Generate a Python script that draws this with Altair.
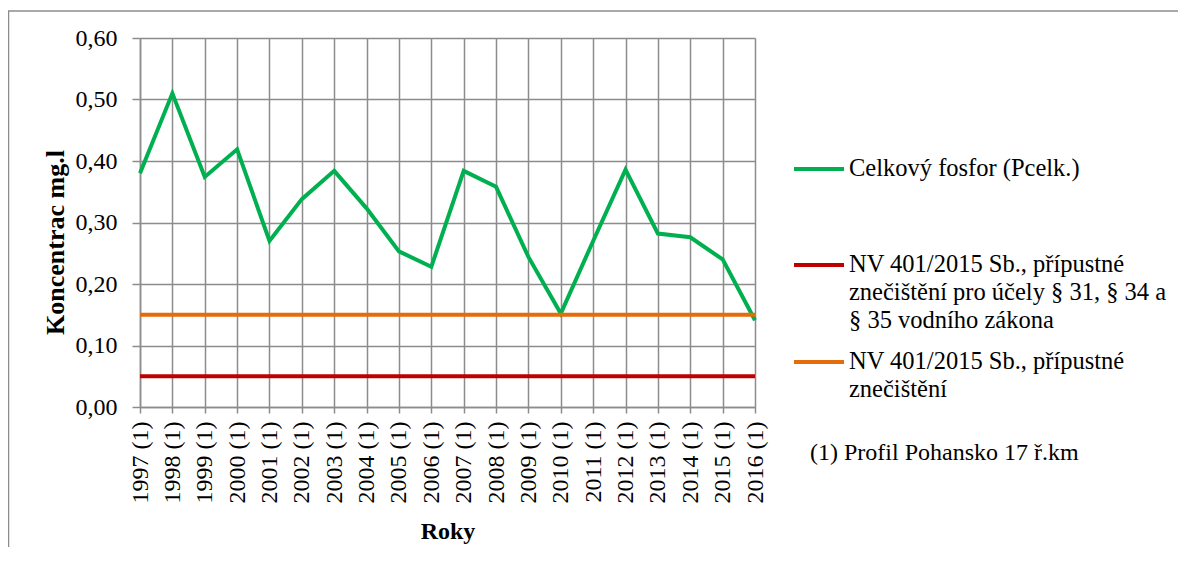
import json
import altair as alt
import pandas as pd

FONT = "Times New Roman, Liberation Serif, serif"

# ---- data ----
years = ["1997 (1)", "1998 (1)", "1999 (1)", "2000 (1)", "2001 (1)", "2002 (1)",
         "2003 (1)", "2004 (1)", "2005 (1)", "2006 (1)", "2007 (1)", "2008 (1)",
         "2009 (1)", "2010 (1)", "2011 (1)", "2012 (1)", "2013 (1)", "2014 (1)",
         "2015 (1)", "2016 (1)"]
phosphorus = [0.380, 0.510, 0.374, 0.419, 0.270, 0.338, 0.384, 0.323, 0.253, 0.228,
              0.384, 0.358, 0.244, 0.152, 0.270, 0.386, 0.282, 0.276, 0.240, 0.141]
series_names = [
    "Celkový fosfor (Pcelk.)",
    "NV 401/2015 Sb., přípustné znečištění pro účely § 31, § 34 a § 35 vodního zákona",
    "NV 401/2015 Sb., přípustné znečištění",
]
limit_values = [0.05, 0.15]
series_colors = ["#00b050", "#c00000", "#e46c0a"]
legend_lines = [
    ["Celkový fosfor (Pcelk.)"],
    ["NV 401/2015 Sb., přípustné", "znečištění pro účely § 31, § 34 a", "§ 35 vodního zákona"],
    ["NV 401/2015 Sb., přípustné", "znečištění"],
]
y_ticks = [0.0, 0.1, 0.2, 0.3, 0.4, 0.5, 0.6]
note = ["(1) Profil Pohansko 17 ř.km"]
x_title = "Roky"
y_title = "Koncentrac mg.l"

GRID = "#8c8c8c"
FS = 24
W, H = 615, 369


def make_legend(i, ly):
    return alt.Legend(
        title=None, orient="none", legendX=652, legendY=ly, padding=0,
        symbolType="stroke", symbolSize=2500, symbolStrokeWidth=4,
        labelFont=FONT, labelFontSize=24.5, labelColor="black", labelOffset=3,
        labelLimit=800, labelExpr=json.dumps(legend_lines[i], ensure_ascii=False),
    )


x_axis = alt.Axis(
    title=x_title, grid=True, gridColor=GRID, gridWidth=1.5,
    domainColor=GRID, domainWidth=1.5, tickColor=GRID, tickWidth=1.5, tickSize=6,
    labelAngle=270, labelPadding=8, labelFont=FONT, labelFontSize=FS, labelColor="black",
    titleFont=FONT, titleFontSize=FS, titleFontWeight="bold", titleColor="black",
    titleX=W / 2, titleY=124, titleAlign="center", titleBaseline="middle",
)
y_axis = alt.Axis(
    title=y_title, values=y_ticks, grid=True, gridColor=GRID, gridWidth=1.5,
    domainColor=GRID, domainWidth=1.5, tickColor=GRID, tickWidth=1.5, tickSize=8,
    labelPadding=15, labelFont=FONT, labelFontSize=FS, labelColor="black",
    labelExpr="replace(format(datum.value, '.2f'), '.', ',')",
    titleFont=FONT, titleFontSize=26, titleFontWeight="bold", titleColor="black",
    titleX=-85, titleY=204, titleAngle=270, titleAlign="center", titleBaseline="middle",
)

df_p = pd.DataFrame({"year": years, "value": phosphorus, "series": series_names[0]})
df_red = pd.DataFrame({"value": [limit_values[0]], "series": [series_names[1]]})
df_orange = pd.DataFrame({"value": [limit_values[1]], "series": [series_names[2]]})
df_note = pd.DataFrame({"text": note})
df_one = pd.DataFrame({"k": [0]})

green = alt.Chart(df_p).mark_line(strokeWidth=4).encode(
    x=alt.X("year:O", sort=years, scale=alt.Scale(padding=0), axis=x_axis),
    y=alt.Y("value:Q", scale=alt.Scale(domain=[0, 0.6], nice=False), axis=y_axis),
    color=alt.Color("series:N", scale=alt.Scale(domain=[series_names[0]], range=[series_colors[0]]),
                    legend=make_legend(0, 104)),
)

red = alt.Chart(df_red).mark_rule(strokeWidth=4).encode(
    y=alt.Y("value:Q"),
    color=alt.Color("series:N", scale=alt.Scale(domain=[series_names[1]], range=[series_colors[1]]),
                    legend=make_legend(1, 200)),
)

orange = alt.Chart(df_orange).mark_rule(strokeWidth=4).encode(
    y=alt.Y("value:Q"),
    color=alt.Color("series:N", scale=alt.Scale(domain=[series_names[2]], range=[series_colors[2]]),
                    legend=make_legend(2, 297)),
)

note_text = alt.Chart(df_note).mark_text(
    align="left", baseline="middle", font=FONT, fontSize=FS, color="black"
).encode(x=alt.value(670), y=alt.value(415), text="text:N")

frame_left = alt.Chart(df_one).mark_rule(color=GRID, strokeWidth=1.5).encode(
    x=alt.value(-131.5), y=alt.value(-27), y2=alt.value(520))
frame_top = alt.Chart(df_one).mark_rule(color=GRID, strokeWidth=1.5).encode(
    y=alt.value(-27), x=alt.value(-132), x2=alt.value(1050))

chart = alt.layer(green, red, orange, note_text, frame_left, frame_top).resolve_scale(
    color="independent"
).properties(
    width=W, height=H,
    autosize=alt.AutoSizeParams(type="none"),
    padding={"left": 132, "top": 30, "right": 423, "bottom": 140},
).configure_view(stroke=None).configure(
    font=FONT,
    style={"guide-label": {"lineHeight": 28, "font": FONT}}
)

chart.save("out.html", embed_options={"renderer": "svg", "actions": False})
